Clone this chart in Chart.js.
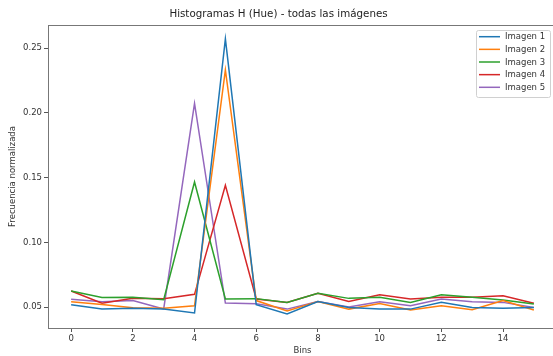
<!DOCTYPE html>
<html>
<head>
<meta charset="utf-8">
<script src="https://cdn.jsdelivr.net/npm/chart.js@4.4.1/dist/chart.umd.min.js"></script>
<style>
  html, body { margin: 0; padding: 0; background: #fff; overflow: hidden; }
  #wrap { position: relative; width: 574px; height: 356px; }
</style>
</head>
<body>
<div id="wrap"><canvas id="histChart"></canvas></div>
<script>
// Datos
var bins = [0, 1, 2, 3, 4, 5, 6, 7, 8, 9, 10, 11, 12, 13, 14, 15];
var imagen1 = [0.0518, 0.0484, 0.0490, 0.0485, 0.0454, 0.2572, 0.0518, 0.0446, 0.0543, 0.0497, 0.0484, 0.0484, 0.0536, 0.0497, 0.0490, 0.0497];
var imagen2 = [0.0540, 0.0520, 0.0495, 0.0490, 0.0510, 0.2332, 0.0550, 0.0470, 0.0543, 0.0484, 0.0528, 0.0477, 0.0510, 0.0480, 0.0550, 0.0477];
var imagen3 = [0.0624, 0.0574, 0.0575, 0.0557, 0.1466, 0.0562, 0.0565, 0.0536, 0.0606, 0.0567, 0.0575, 0.0536, 0.0595, 0.0575, 0.0554, 0.0523];
var imagen4 = [0.0624, 0.0530, 0.0567, 0.0564, 0.0598, 0.1440, 0.0562, 0.0536, 0.0606, 0.0543, 0.0595, 0.0562, 0.0575, 0.0575, 0.0588, 0.0530];
var imagen5 = [0.0560, 0.0540, 0.0550, 0.0485, 0.2074, 0.0531, 0.0526, 0.0484, 0.0543, 0.0500, 0.0540, 0.0510, 0.0562, 0.0540, 0.0536, 0.0497];
var nombres = ['Imagen 1', 'Imagen 2', 'Imagen 3', 'Imagen 4', 'Imagen 5'];
var colores = ['#1f77b4', '#ff7f0e', '#2ca02c', '#d62728', '#9467bd'];
var xTicks = [0, 2, 4, 6, 8, 10, 12, 14];
var yTicks = [0.05, 0.10, 0.15, 0.20, 0.25];

var series = [imagen1, imagen2, imagen3, imagen4, imagen5];
var datasets = series.map(function (s, i) {
    return {
        label: nombres[i],
        data: s.map(function (v, j) { return { x: bins[j], y: v }; }),
        borderColor: colores[i],
        backgroundColor: colores[i],
        borderWidth: 1.5,
        pointRadius: 0,
        tension: 0,
        fill: false
    };
});

// Marco del eje y leyenda estilo matplotlib
var marcoYLeyenda = {
    id: 'marcoYLeyenda',
    afterDraw: function (chart) {
        var ctx = chart.ctx;
        var a = chart.chartArea;
        ctx.save();
        ctx.strokeStyle = '#777';
        ctx.lineWidth = 1;
        ctx.strokeRect(Math.round(a.left) + 0.5, Math.round(a.top) + 0.5,
            Math.round(a.right - a.left), Math.round(a.bottom - a.top));

        // leyenda
        var x0 = 476, y0 = 30, w = 74, h = 67;
        ctx.fillStyle = 'rgba(255,255,255,0.85)';
        ctx.strokeStyle = '#d0d0d0';
        ctx.beginPath();
        ctx.roundRect(x0 + 0.5, y0 + 0.5, w, h, 2);
        ctx.fill();
        ctx.stroke();
        ctx.font = '8.5px "DejaVu Sans"';
        ctx.textBaseline = 'middle';
        chart.data.datasets.forEach(function (ds, i) {
            var y = 36.7 + i * 12.65;
            ctx.strokeStyle = ds.borderColor;
            ctx.lineWidth = 1.5;
            ctx.beginPath();
            ctx.moveTo(479, y);
            ctx.lineTo(500, y);
            ctx.stroke();
            ctx.fillStyle = '#333';
            ctx.fillText(ds.label, 505, y + 0.5);
        });
        ctx.restore();
    }
};

var ctx = document.getElementById('histChart').getContext('2d');
var histChart = new Chart(ctx, {
    type: 'line',
    data: { datasets: datasets },
    plugins: [marcoYLeyenda],
    options: {
        responsive: true,
        maintainAspectRatio: false,
        animation: false,
        layout: { padding: { left: 0, right: 17, top: 0, bottom: 0 } },
        plugins: {
            legend: { display: false },
            tooltip: { enabled: false },
            title: {
                display: true,
                text: 'Histogramas H (Hue) - todas las imágenes',
                color: '#222',
                font: { family: 'DejaVu Sans', size: 10.3, weight: 'normal' },
                padding: { top: 8, bottom: 4.6 }
            }
        },
        scales: {
            x: {
                type: 'linear',
                min: -0.75,
                max: 15.75,
                afterBuildTicks: function (axis) {
                    axis.ticks = xTicks.map(function (v) { return { value: v }; });
                },
                afterFit: function (axis) { axis.height = 28; },
                grid: { drawOnChartArea: false, drawTicks: true, tickLength: 4, color: '#555' },
                border: { display: false },
                ticks: {
                    color: '#333',
                    padding: 2,
                    maxRotation: 0,
                    font: { family: 'DejaVu Sans', size: 8.5 },
                    callback: function (v) { return v; }
                },
                title: {
                    display: true,
                    text: 'Bins',
                    color: '#333',
                    padding: { top: 0, bottom: 0 },
                    font: { family: 'DejaVu Sans', size: 8.5 }
                }
            },
            y: {
                type: 'linear',
                min: 0.0338,
                max: 0.268,
                afterBuildTicks: function (axis) {
                    axis.ticks = yTicks.map(function (v) { return { value: v }; });
                },
                afterFit: function (axis) { axis.width = 48; },
                grid: { drawOnChartArea: false, drawTicks: true, tickLength: 4, color: '#555' },
                border: { display: false },
                ticks: {
                    color: '#333',
                    padding: 2,
                    font: { family: 'DejaVu Sans', size: 8.5 },
                    callback: function (v) { return v.toFixed(2); }
                },
                title: {
                    display: true,
                    text: 'Frecuencia normalizada',
                    color: '#333',
                    padding: { top: 8, bottom: 0 },
                    font: { family: 'DejaVu Sans', size: 8.5 }
                }
            }
        }
    }
});
</script>
</body>
</html>
